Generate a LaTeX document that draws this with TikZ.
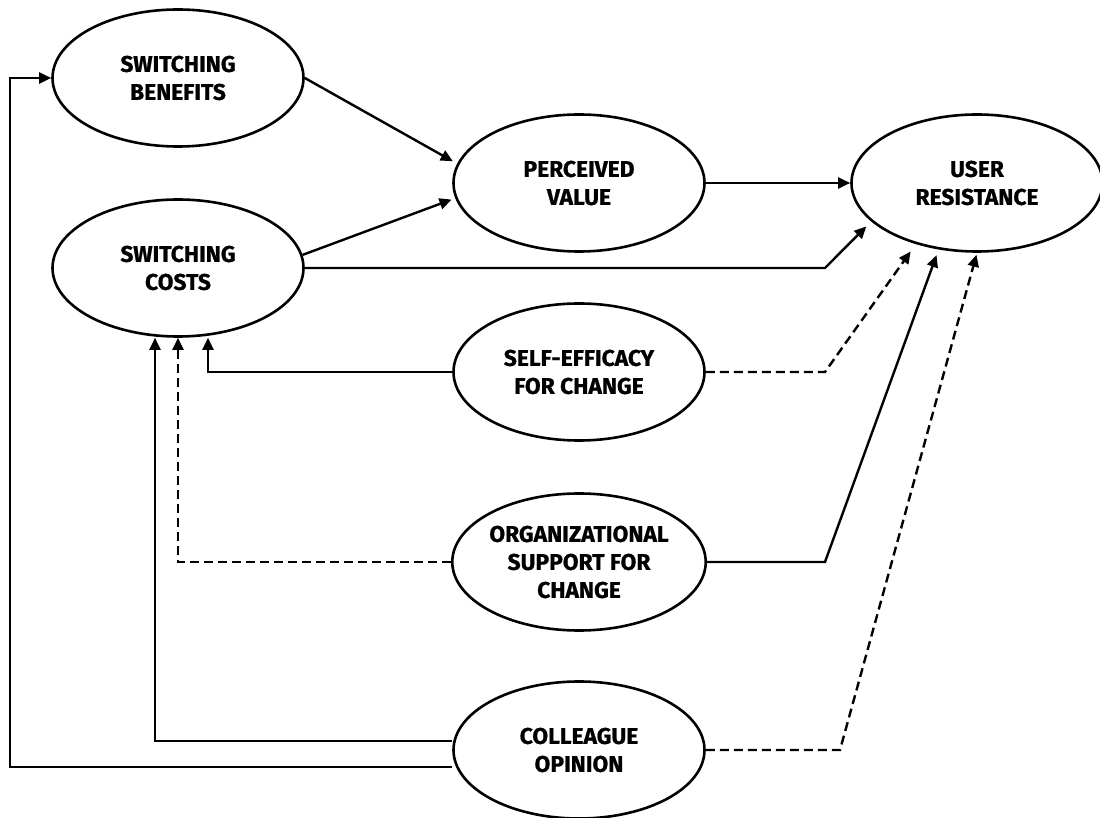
\documentclass[tikz,border=0pt]{standalone}
\usepackage{fontspec}
\setmainfont{Fira Sans}[BoldFeatures={FakeBold=0.8}]
\usepackage{tikz}
\usetikzlibrary{shapes.geometric,arrows.meta,positioning}

\begin{document}
\begin{tikzpicture}[x=0.5pt, y=-0.5pt, line width=1.2pt, >={Triangle[length=6pt,width=5.5pt]}]
   \useasboundingbox (0,0) rectangle (1100,818);
   \begin{scope}[every node/.style={ellipse,draw,line width=1.3pt,minimum width=125.5pt,minimum height=68.5pt,inner sep=0pt,align=center,font=\bfseries\fontsize{11.4}{14}\selectfont}]
    \node (ben) at (178,78) {SWITCHING\\BENEFITS};
    \node (cost) at (178,268) {SWITCHING\\COSTS};
    \node (pv) at (579,183) {PERCEIVED\\VALUE};
    \node (ur) at (977,183) {USER\\RESISTANCE};
    \node (se) at (579,372) {SELF-EFFICACY\\FOR CHANGE};
    \node (org) at (579,562) {ORGANIZATIONAL\\SUPPORT FOR\\CHANGE};
    \node (col) at (579,750) {COLLEAGUE\\OPINION};
   \end{scope}
   \coordinate (bend) at (825,0);
   \coordinate (bendc) at (840,0);
   \coordinate (edge) at (10,400);
   \begin{scope}[dashline/.style={dash pattern=on 4.5pt off 2.5pt}]
    \draw[->, shorten >=2.5pt] (ben.east) -- (pv.171);
    \draw[->, shorten >=2pt] (cost.6) -- (pv.187);
    \draw[->] (pv.east) -- (ur.west);
    \draw[->, shorten >=3.5pt] (cost.east) -- (cost.east -| bend) -- (ur.200);
    \draw[->, dashline, shorten >=4.5pt] (se.east) -- (se.east -| bend) -- (ur.225);
    \draw[->, shorten >=3pt] (org.east) -- (org.east -| bend) -- (ur.240);
    \draw[->, dashline, shorten >=1pt] (col.east) -- (col.east -| bendc) -- (ur.south);
    \draw[->] (se.west) -| ([xshift=15pt]cost.south);
    \draw[->, dashline] (org.west) -| (cost.south);
    \draw[->] ([yshift=4.5pt]col.west) -| ([xshift=-11.5pt]cost.south);
    \draw[->] ([yshift=-8.5pt]col.west) -| (edge) |- (ben.west);
   \end{scope}
\end{tikzpicture}
\end{document}
